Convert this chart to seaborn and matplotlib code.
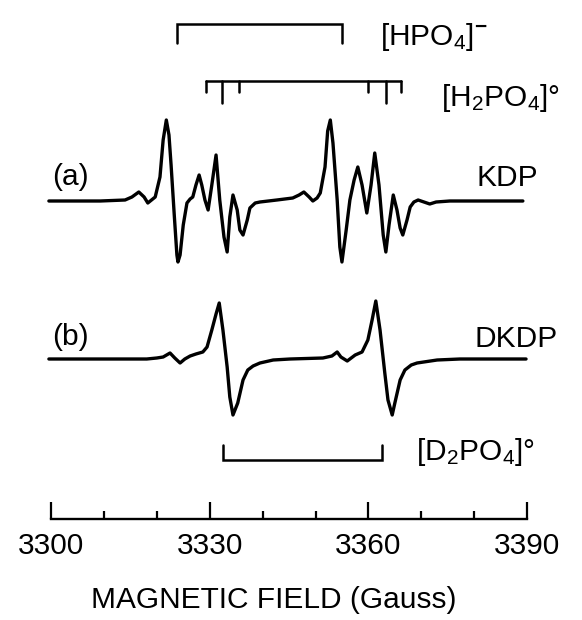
import matplotlib
matplotlib.use("Agg")
import matplotlib.pyplot as plt
import pandas as pd
import seaborn as sns
from matplotlib.ticker import FixedLocator

# EPR derivative spectrum of KDP (a): field in gauss, signal in arbitrary units
kdp_field = [3299.6, 3309.3, 3314.0, 3315.3, 3316.6, 3317.6, 3318.3, 3319.7, 3320.6,
             3321.2, 3321.8, 3322.3, 3322.7, 3323.3, 3323.8, 3324.0, 3324.4, 3325.0,
             3325.7, 3326.3, 3326.8, 3327.4, 3328.0, 3328.5, 3329.1, 3329.7, 3330.4,
             3331.2, 3331.9, 3332.7, 3333.3, 3333.8, 3334.4, 3335.2, 3335.7, 3336.3,
             3337.1, 3337.6, 3338.6, 3339.5, 3342.7, 3345.7, 3346.9, 3347.8, 3348.8,
             3349.5, 3350.3, 3350.9, 3351.8, 3352.3, 3352.8, 3353.3, 3354.1, 3354.6,
             3355.0, 3355.8, 3356.5, 3357.3, 3358.0, 3358.8, 3359.7, 3360.5, 3361.2,
             3362.0, 3362.8, 3363.3, 3363.9, 3364.7, 3365.4, 3366.0, 3366.5, 3367.3,
             3367.9, 3368.6, 3369.4, 3370.5, 3371.6, 3372.8, 3375.4, 3389.2]
kdp_signal = [0, 0, 1, 4, 9, 4, -2, 4, 24,
              61, 81, 66, 36, -14, -54, -61, -54, -24,
              -2, 2, 4, 16, 26, 16, 1, -9, 16,
              46, 1, -36, -51, -16, 6, -9, -29, -34,
              -19, -7, -2, -1, 1, 3, 6, 9, 4,
              0, 3, 8, 34, 70, 81, 58, 1, -46,
              -61, -29, 1, 21, 34, 16, -12, 16, 48,
              16, -34, -51, -24, 6, -9, -27, -34, -19,
              -6, -1, 1, -1, -3, -1, 0, 0]

# EPR derivative spectrum of DKDP (b)
dkdp_field = [3299.6, 3318.1, 3320.0, 3321.2, 3322.5, 3323.4, 3324.4, 3325.3, 3326.3,
              3327.4, 3328.7, 3329.5, 3330.4, 3331.2, 3331.8, 3332.5, 3333.3, 3333.8,
              3334.4, 3335.3, 3336.3, 3337.2, 3338.2, 3339.5, 3342.0, 3345.2, 3351.4,
              3353.1, 3354.1, 3354.8, 3356.0, 3357.5, 3358.8, 3359.9, 3360.7, 3361.4,
              3362.2, 3363.1, 3363.7, 3364.5, 3365.0, 3366.0, 3366.9, 3368.1, 3369.2,
              3373.0, 3377.3, 3389.8]
dkdp_signal = [0, 0, 1, 2, 6, 1, -4, 0, 3,
               5, 7, 12, 29, 45, 56, 29, -8, -38,
               -56, -44, -21, -11, -7, -4, -1, 0, 1,
               3, 7, 2, -2, 4, 7, 19, 39, 58,
               29, -14, -41, -56, -44, -21, -11, -6, -4,
               -1, 0, 0]

# Line positions marked by the stick diagrams (gauss)
hpo4_lines = [3323.8, 3355.0]
h2po4_outer = [3329.3, 3366.2]
h2po4_inner = [3332.3, 3363.3]
h2po4_mid = [3335.5, 3359.9]
d2po4_lines = [3332.5, 3362.6]

major_ticks = [3300, 3330, 3360, 3390]
minor_ticks = [3310, 3320, 3340, 3350, 3370, 3380]

sns.set_theme(style="white")
plt.rcParams["font.family"] = ["Liberation Sans", "DejaVu Sans"]
plt.rcParams["mathtext.fontset"] = "custom"
plt.rcParams["mathtext.rm"] = "Liberation Sans"
plt.rcParams["mathtext.it"] = "Liberation Sans:italic"
plt.rcParams["mathtext.bf"] = "Liberation Sans:bold"
plt.rcParams["text.color"] = "black"
plt.rcParams["axes.labelcolor"] = "black"
plt.rcParams["xtick.color"] = "black"

W, H = 582, 620
fig = plt.figure(figsize=(W / 100, H / 100), dpi=100)
axis_y = 519
ax = fig.add_axes([0, (H - axis_y) / H, 1, axis_y / H])

px_per_g = 5.29
x0 = 51
ax.set_xlim(3300 - x0 / px_per_g, 3300 + (W - x0) / px_per_g)
ax.set_ylim(0, axis_y)

kdp_base = 318
dkdp_base = 160

df = pd.concat([
    pd.DataFrame({"field": kdp_field,
                  "y": [kdp_base + s for s in kdp_signal],
                  "sample": "KDP"}),
    pd.DataFrame({"field": dkdp_field,
                  "y": [dkdp_base + s for s in dkdp_signal],
                  "sample": "DKDP"}),
])
sns.lineplot(data=df, x="field", y="y", units="sample", estimator=None,
             sort=False, color="black", linewidth=2.4, ax=ax, legend=False)
for line in ax.lines:
    line.set_solid_joinstyle("round")
    line.set_solid_capstyle("round")

kw = dict(color="black", linewidth=1.8, solid_joinstyle="miter")

# [HPO4]- doublet
l, r = hpo4_lines
ax.plot([l, l, r, r], [476, 495, 495, 476], **kw)

# [H2PO4]0 pattern
ax.plot(h2po4_outer, [438, 438], **kw)
for xv in h2po4_outer + h2po4_mid:
    ax.plot([xv, xv], [438, 427], **kw)
for xv in h2po4_inner:
    ax.plot([xv, xv], [438, 416], **kw)

# [D2PO4]0 doublet
l, r = d2po4_lines
ax.plot([l, l, r, r], [74, 59, 59, 74], **kw)

fs = 21.5


def gx(px):
    return 3300 + (px - x0) / px_per_g


def dy(py):
    return axis_y - py


ax.text(gx(380), dy(37), r"[HPO$_4$]$^{\mathbf{-}}$", fontsize=fs, va="center", ha="left")
ax.text(gx(441), dy(98), r"[H$_2$PO$_4$]°", fontsize=fs, va="center", ha="left")
ax.text(gx(416), dy(452), r"[D$_2$PO$_4$]°", fontsize=fs, va="center", ha="left")
ax.text(gx(52), dy(177), "(a)", fontsize=fs, va="center", ha="left")
ax.text(gx(476), dy(178), "KDP", fontsize=fs, va="center", ha="left")
ax.text(gx(52), dy(337), "(b)", fontsize=fs, va="center", ha="left")
ax.text(gx(474), dy(339), "DKDP", fontsize=fs, va="center", ha="left")

for side in ["left", "top", "right"]:
    ax.spines[side].set_visible(False)
ax.spines["bottom"].set_bounds(3300, 3390)
ax.spines["bottom"].set_linewidth(1.7)
ax.spines["bottom"].set_color("black")

ax.xaxis.set_major_locator(FixedLocator(major_ticks))
ax.xaxis.set_minor_locator(FixedLocator(minor_ticks))
ax.set_xticklabels([str(t) for t in major_ticks])
ax.tick_params(axis="x", which="major", direction="in", length=12.5, width=1.6,
               color="black", labelsize=fs, pad=9, bottom=True)
ax.tick_params(axis="x", which="minor", direction="in", length=6, width=1.6,
               color="black", bottom=True)
ax.set_yticks([])
ax.set_ylabel("")
ax.set_xlabel("MAGNETIC FIELD (Gauss)", fontsize=fs)
ax.xaxis.set_label_coords(273.5 / W, -(600 - axis_y) / axis_y)
ax.xaxis.label.set_va("center")
ax.patch.set_alpha(0)

fig.savefig("out.png", dpi=100)
